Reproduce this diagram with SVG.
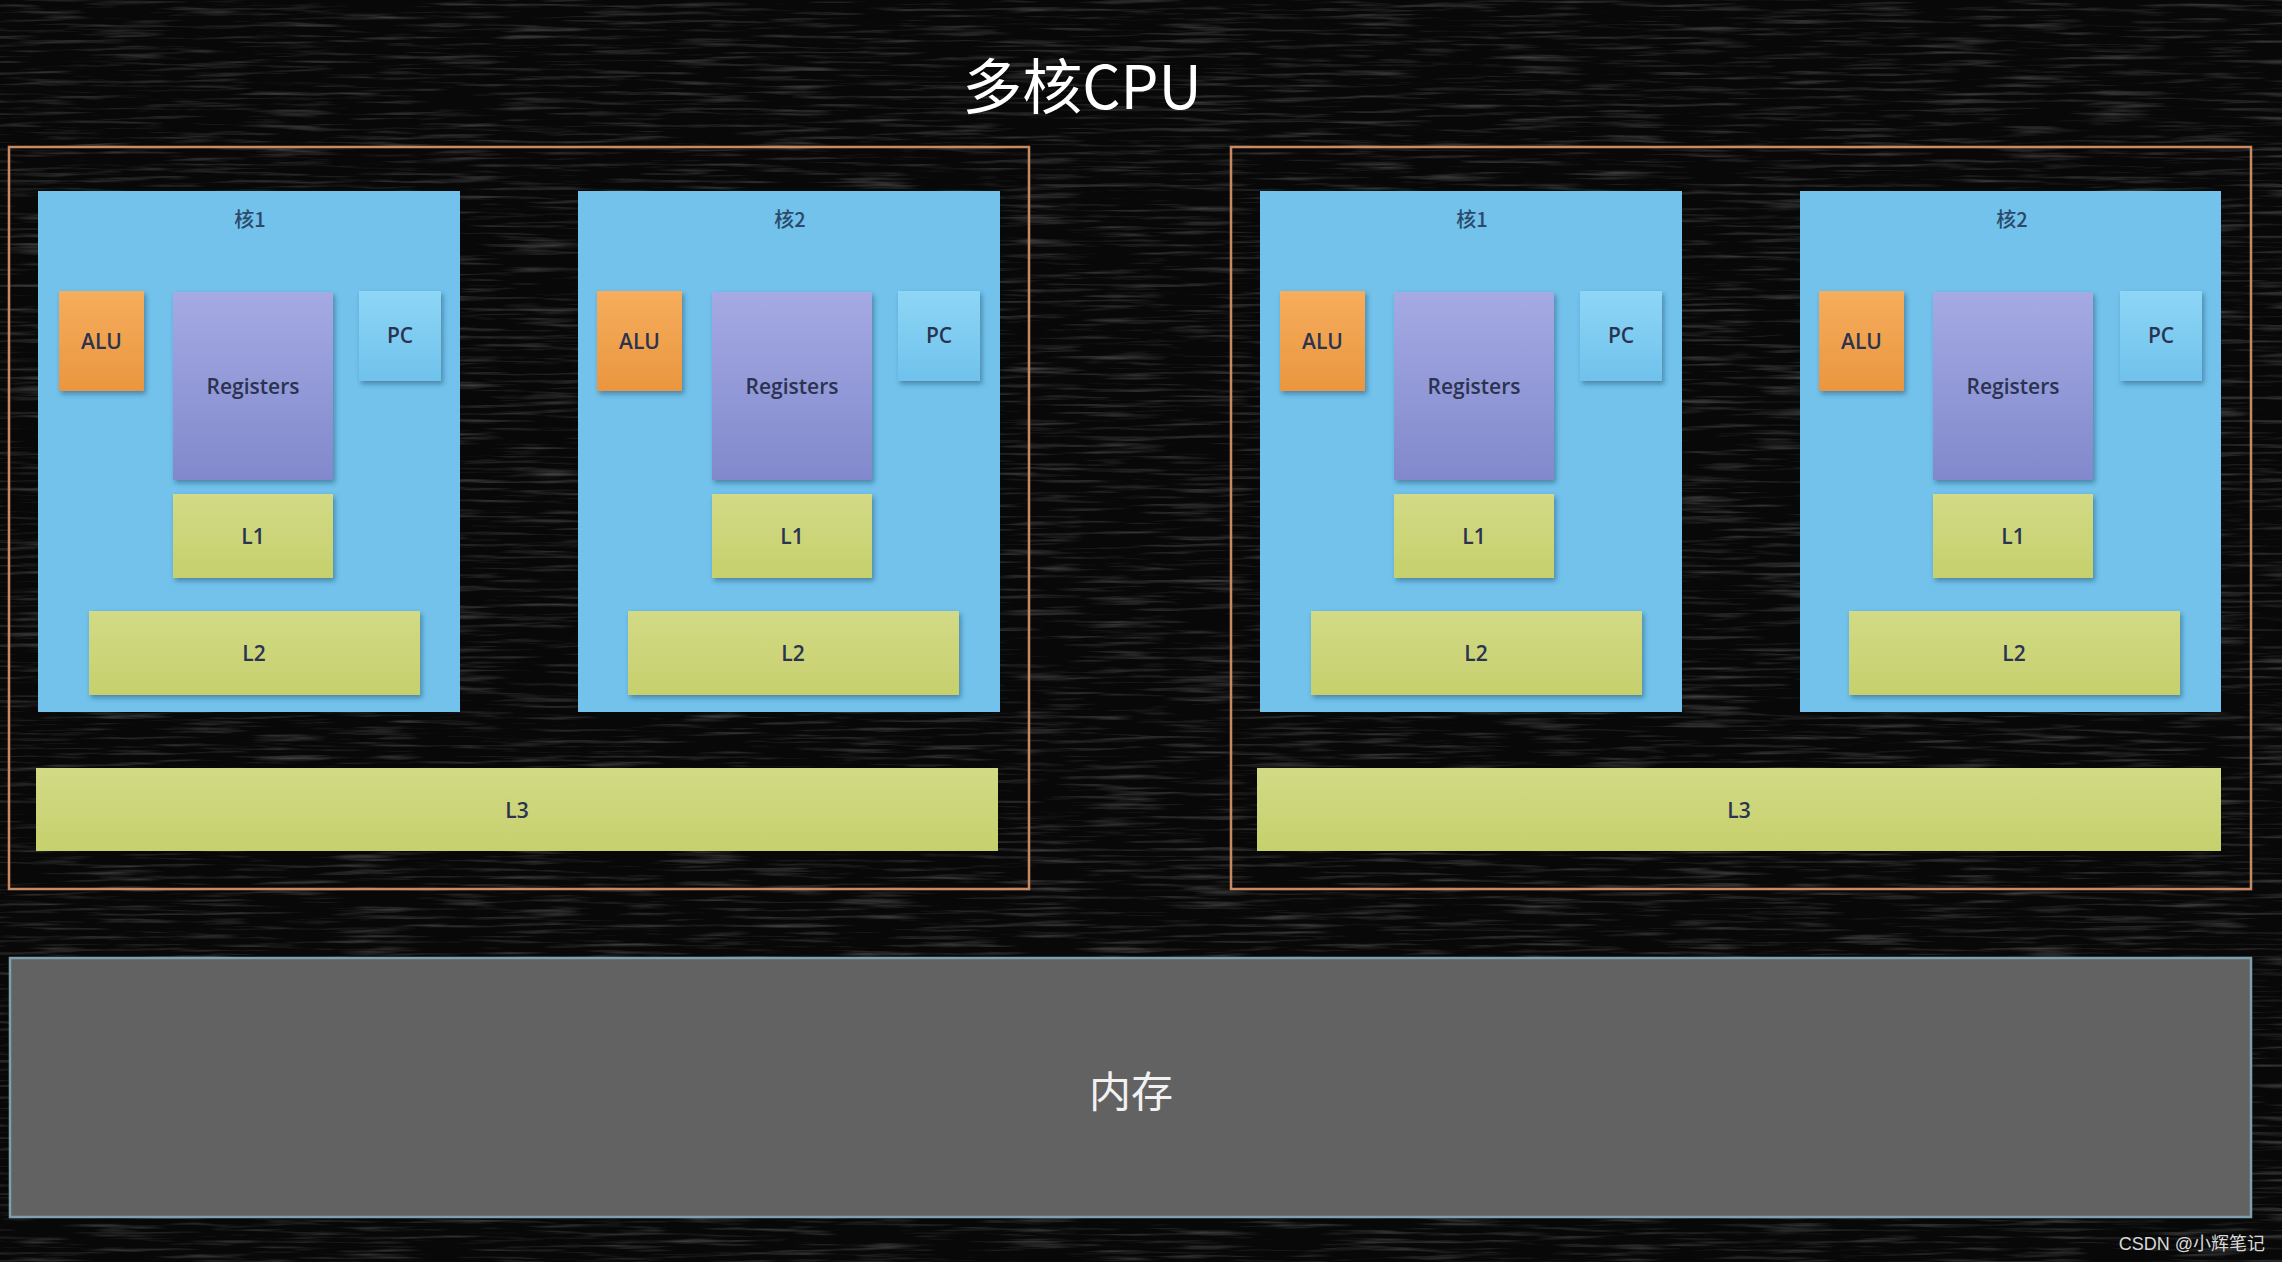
<svg xmlns="http://www.w3.org/2000/svg" width="2282" height="1262" viewBox="0 0 2282 1262">
<defs>
<filter id="noise" x="0" y="0" width="100%" height="100%">
<feTurbulence type="fractalNoise" baseFrequency="0.012 0.25" numOctaves="3" seed="7" result="t"/>
<feColorMatrix in="t" type="matrix" values="0 0 0 0 0.5  0 0 0 0 0.5  0 0 0 0 0.5  0 0 0 1.8 -0.9"/>
</filter>
<filter id="sh" x="-10%" y="-10%" width="125%" height="130%">
<feDropShadow dx="2" dy="3" stdDeviation="2.5" flood-color="#1a3a55" flood-opacity="0.45"/>
</filter>
<linearGradient id="gAlu" x1="0" y1="0" x2="0" y2="1"><stop offset="0" stop-color="#f6ad5c"/><stop offset="1" stop-color="#ea963f"/></linearGradient>
<linearGradient id="gReg" x1="0" y1="0" x2="0" y2="1"><stop offset="0" stop-color="#a5aae4"/><stop offset="1" stop-color="#8189cc"/></linearGradient>
<linearGradient id="gPc" x1="0" y1="0" x2="0" y2="1"><stop offset="0" stop-color="#8ed6f6"/><stop offset="1" stop-color="#6fc2ec"/></linearGradient>
<linearGradient id="gL" x1="0" y1="0" x2="0" y2="1"><stop offset="0" stop-color="#d3da86"/><stop offset="1" stop-color="#c6d06c"/></linearGradient>
<style>
.cpu{fill:none;stroke:#c98a62;stroke-width:2.5}
.core{fill:#72c2ec}
.alu{fill:url(#gAlu);filter:url(#sh)}
.reg{fill:url(#gReg);filter:url(#sh)}
.pc{fill:url(#gPc);filter:url(#sh)}
.cache{fill:url(#gL);filter:url(#sh)}
.l3{fill:url(#gL)}
.t{font-family:"Open Sans","Liberation Sans","Noto Sans CJK SC",sans-serif;font-size:21px;font-weight:600;fill:#2b3350;text-anchor:middle;dominant-baseline:central}
.tc{font-family:"Noto Sans CJK SC",sans-serif;font-size:20px;font-weight:500;fill:#2b4a6a;text-anchor:middle;dominant-baseline:central}
</style>
</defs>
<rect width="2282" height="1262" fill="#080808"/>
<rect width="2282" height="1262" filter="url(#noise)" opacity="0.4"/>
<text x="1082" y="82" font-family="'Noto Sans CJK SC',sans-serif" font-size="60" fill="#ffffff" text-anchor="middle" dominant-baseline="central">多核CPU</text>

<g id="cpu1">
<rect class="cpu" x="9" y="147" width="1020" height="742"/>
</g>
<g id="cpu2">
<rect class="cpu" x="1231" y="147" width="1020" height="742"/>
</g>

<g id="core1-1">
<rect class="core" x="38" y="191" width="422" height="521"/>
<text class="tc" x="250" y="218">核1</text>
<rect class="alu" x="59" y="291" width="85" height="100"/><text class="t" x="101.5" y="341">ALU</text>
<rect class="reg" x="173" y="292" width="160" height="188"/><text class="t" x="253" y="386">Registers</text>
<rect class="pc" x="359" y="291" width="82" height="90"/><text class="t" x="400" y="335">PC</text>
<rect class="cache" x="173" y="494" width="160" height="84"/><text class="t" x="253" y="536">L1</text>
<rect class="cache" x="89" y="611" width="331" height="84"/><text class="t" x="254" y="653">L2</text>
</g>

<g id="core1-2">
<rect class="core" x="578" y="191" width="422" height="521"/>
<text class="tc" x="790" y="218">核2</text>
<rect class="alu" x="597" y="291" width="85" height="100"/><text class="t" x="639.5" y="341">ALU</text>
<rect class="reg" x="712" y="292" width="160" height="188"/><text class="t" x="792" y="386">Registers</text>
<rect class="pc" x="898" y="291" width="82" height="90"/><text class="t" x="939" y="335">PC</text>
<rect class="cache" x="712" y="494" width="160" height="84"/><text class="t" x="792" y="536">L1</text>
<rect class="cache" x="628" y="611" width="331" height="84"/><text class="t" x="793" y="653">L2</text>
</g>

<g id="l3-1">
<rect class="l3" x="36" y="768" width="962" height="83"/>
<text class="t" x="517" y="810">L3</text>
</g>

<g id="core2-1">
<rect class="core" x="1260" y="191" width="422" height="521"/>
<text class="tc" x="1472" y="218">核1</text>
<rect class="alu" x="1280" y="291" width="85" height="100"/><text class="t" x="1322.5" y="341">ALU</text>
<rect class="reg" x="1394" y="292" width="160" height="188"/><text class="t" x="1474" y="386">Registers</text>
<rect class="pc" x="1580" y="291" width="82" height="90"/><text class="t" x="1621" y="335">PC</text>
<rect class="cache" x="1394" y="494" width="160" height="84"/><text class="t" x="1474" y="536">L1</text>
<rect class="cache" x="1311" y="611" width="331" height="84"/><text class="t" x="1476" y="653">L2</text>
</g>

<g id="core2-2">
<rect class="core" x="1800" y="191" width="421" height="521"/>
<text class="tc" x="2012" y="218">核2</text>
<rect class="alu" x="1819" y="291" width="85" height="100"/><text class="t" x="1861.5" y="341">ALU</text>
<rect class="reg" x="1933" y="292" width="160" height="188"/><text class="t" x="2013" y="386">Registers</text>
<rect class="pc" x="2120" y="291" width="82" height="90"/><text class="t" x="2161" y="335">PC</text>
<rect class="cache" x="1933" y="494" width="160" height="84"/><text class="t" x="2013" y="536">L1</text>
<rect class="cache" x="1849" y="611" width="331" height="84"/><text class="t" x="2014" y="653">L2</text>
</g>

<g id="l3-2">
<rect class="l3" x="1257" y="768" width="964" height="83"/>
<text class="t" x="1739" y="810">L3</text>
</g>

<g id="memory">
<rect x="10" y="958" width="2241" height="259" fill="#626262" stroke="#7e9fae" stroke-width="2.5"/>
<text x="1131" y="1088" font-family="'Noto Sans CJK SC',sans-serif" font-size="42" fill="#f2f2f2" text-anchor="middle" dominant-baseline="central">内存</text>
</g>

<g id="connectors"></g>

<text x="2265" y="1250" font-family="'Liberation Sans','Noto Sans CJK SC',sans-serif" font-size="18" fill="#d8d8d8" text-anchor="end">CSDN @小辉笔记</text>
</svg>
